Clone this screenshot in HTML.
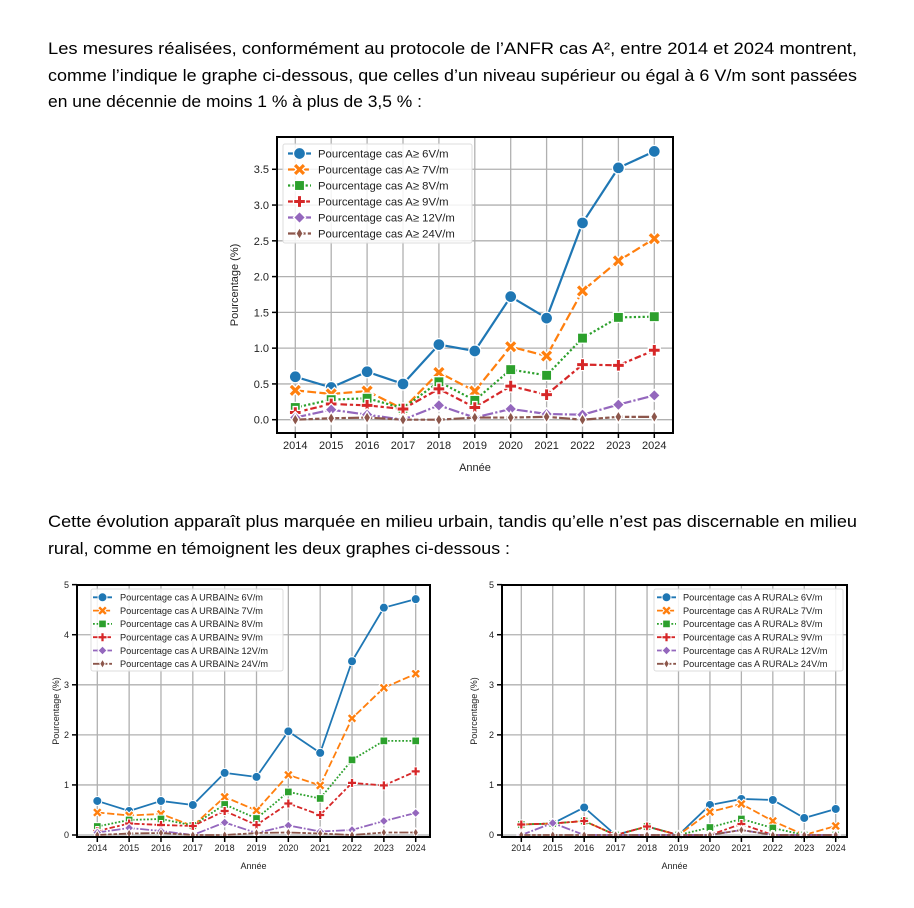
<!DOCTYPE html>
<html><head><meta charset="utf-8"><style>
html,body{margin:0;padding:0;background:#fff}
svg{display:block}
text{font-family:"Liberation Sans",sans-serif}
</style></head><body>
<svg id="s" width="914" height="908" viewBox="0 0 914 908" xmlns="http://www.w3.org/2000/svg">
<g font-size="17" fill="#000">
<text x="48" y="54" textLength="809" lengthAdjust="spacingAndGlyphs">Les mesures réalisées, conformément au protocole de l’ANFR cas A², entre 2014 et 2024 montrent,</text>
<text x="48" y="81" textLength="809" lengthAdjust="spacingAndGlyphs">comme l’indique le graphe ci-dessous, que celles d’un niveau supérieur ou égal à 6 V/m sont passées</text>
<text x="48" y="107" textLength="374" lengthAdjust="spacingAndGlyphs">en une décennie de moins 1 % à plus de 3,5 % :</text>
<text x="48" y="527" textLength="809" lengthAdjust="spacingAndGlyphs">Cette évolution apparaît plus marquée en milieu urbain, tandis qu’elle n’est pas discernable en milieu</text>
<text x="48" y="554" textLength="462" lengthAdjust="spacingAndGlyphs">rural, comme en témoignent les deux graphes ci-dessous :</text>
</g>
</svg>
<script>
const S=document.getElementById('s'),NS='http://www.w3.org/2000/svg';
function el(t,a,p){const e=document.createElementNS(NS,t);for(const k in a)e.setAttribute(k,a[k]);(p||S).appendChild(e);return e;}
const C=['#1f77b4','#ff7f0e','#2ca02c','#d62728','#9467bd','#8c564b'];
const D=[null,[4,1.5],[1,1],[3,1.25,1.5,1.25],[5,1,1,1],[5,1,2,1,2,1]];
function plus(x,y,a,b){return `M${x-b} ${y-a}H${x+b}V${y-b}H${x+a}V${y+b}H${x+b}V${y+a}H${x-b}V${y+b}H${x-a}V${y-b}H${x-b}Z`;}
function marker(g,i,x,y,r){const c=C[i],w={fill:c,stroke:'#fff','stroke-width':r*0.22};
 if(i==0)el('circle',Object.assign({cx:x,cy:y,r:r},w),g);
 else if(i==1)el('path',Object.assign({d:plus(x,y,r*1.15,r*0.38),transform:`rotate(45 ${x} ${y})`},w),g);
 else if(i==2)el('rect',Object.assign({x:x-r*0.85,y:y-r*0.85,width:r*1.7,height:r*1.7},w),g);
 else if(i==3)el('path',Object.assign({d:plus(x,y,r,r*0.36)},w),g);
 else if(i==4)el('path',Object.assign({d:`M${x} ${y-r}L${x+r} ${y}L${x} ${y+r}L${x-r} ${y}Z`},w),g);
 else el('path',Object.assign({d:`M${x} ${y-r}L${x+r*0.6} ${y}L${x} ${y+r}L${x-r*0.6} ${y}Z`},w),g);}
function chart(o){
 const g=el('g',{});
 const X=k=>o.x0+k*o.dx,Y=v=>o.y0-v*o.dy;
 for(let k=0;k<11;k++)el('line',{x1:X(k),x2:X(k),y1:o.T,y2:o.B,stroke:'#b0b0b0','stroke-width':1.3},g);
 o.yt.forEach(v=>el('line',{x1:o.L,x2:o.R,y1:Y(v),y2:Y(v),stroke:'#b0b0b0','stroke-width':1.3},g));
 o.data.forEach((d,i)=>{
  const pts=d.map((v,k)=>X(k)+','+Y(v)).join(' ');
  const a={points:pts,fill:'none',stroke:C[i],'stroke-width':o.lw,'stroke-linejoin':'round'};
  if(D[i])a['stroke-dasharray']=D[i].map(v=>v*o.lw).join(',');
  el('polyline',a,g);
  d.forEach((v,k)=>marker(g,i,X(k),Y(v),o.mr));
 });
 el('rect',{x:o.L,y:o.T,width:o.R-o.L,height:o.B-o.T,fill:'none',stroke:'#000','stroke-width':2},g);
 for(let k=0;k<11;k++){el('line',{x1:X(k),x2:X(k),y1:o.B,y2:o.B+5,stroke:'#000','stroke-width':1.5},g);
  el('text',{x:X(k),y:o.B+o.fs+5,'font-size':o.fs,'text-anchor':'middle',fill:'#222'},g).textContent=2014+k;}
 o.yt.forEach((v,j)=>{el('line',{x1:o.L-5,x2:o.L,y1:Y(v),y2:Y(v),stroke:'#000','stroke-width':1.5},g);
  el('text',{x:o.L-8,y:Y(v)+o.fs*0.36,'font-size':o.fs,'text-anchor':'end',fill:'#222'},g).textContent=o.yl[j];});
 el('text',{x:(o.L+o.R)/2,y:o.xly,'font-size':o.fs,'text-anchor':'middle',fill:'#222'},g).textContent='Année';
 el('text',{x:0,y:0,'font-size':o.fs,'text-anchor':'middle',fill:'#222',transform:`translate(${o.ylx},${(o.T+o.B)/2}) rotate(-90)`},g).textContent='Pourcentage (%)';
 const lg=o.lg;
 el('rect',{x:lg.x,y:lg.y,width:lg.w,height:lg.h,fill:'#fff','fill-opacity':0.85,stroke:'#ddd','stroke-width':1,rx:2},g);
 o.labels.forEach((t,i)=>{const yy=lg.ey+i*lg.sp;
  const a={x1:lg.sx,x2:lg.sx+lg.sl,y1:yy,y2:yy,stroke:C[i],'stroke-width':o.lw};
  if(D[i])a['stroke-dasharray']=D[i].map(v=>v*o.lw).join(',');
  el('line',a,g);marker(g,i,lg.sx+lg.sl/2,yy,o.mr);
  el('text',{x:lg.tx,y:yy+lg.fs*0.36,'font-size':lg.fs,fill:'#222'},g).textContent=t;});
}
const thr=['6V/m','7V/m','8V/m','9V/m','12V/m','24V/m'];
chart({L:277,R:673,T:137,B:433,x0:295.3,dx:35.9,y0:419.7,dy:71.55,lw:2.2,mr:6,fs:11,xly:471,ylx:238,
 yt:[0,.5,1,1.5,2,2.5,3,3.5],yl:['0.0','0.5','1.0','1.5','2.0','2.5','3.0','3.5'],
 data:[[.6,.45,.67,.5,1.05,.96,1.72,1.42,2.75,3.52,3.75],[.41,.36,.4,.15,.66,.4,1.02,.89,1.8,2.22,2.53],[.17,.28,.3,.16,.53,.27,.7,.62,1.14,1.43,1.44],[.1,.22,.2,.15,.43,.17,.47,.35,.77,.76,.97],[.03,.14,.07,0,.2,.03,.15,.08,.07,.21,.34],[0,.02,.03,0,0,.03,.03,.04,0,.04,.04]],
 labels:thr.map(t=>'Pourcentage cas A\u2265 '+t),
 lg:{x:283,y:144,w:189,h:99,ey:153.5,sp:16,sx:288,sl:23,tx:318,fs:11.3}});
chart({L:77,R:430,T:585,B:837,x0:97.3,dx:31.84,y0:835,dy:50.07,lw:1.8,mr:4.5,fs:9,xly:869,ylx:59,
 yt:[0,1,2,3,4,5],yl:['0','1','2','3','4','5'],
 data:[[.68,.48,.68,.6,1.24,1.16,2.07,1.64,3.47,4.54,4.71],[.45,.39,.42,.18,.76,.49,1.2,.99,2.33,2.94,3.22],[.17,.3,.32,.19,.61,.33,.86,.73,1.5,1.88,1.88],[.08,.23,.2,.18,.48,.2,.63,.4,1.04,.99,1.27],[.05,.14,.08,0,.25,.04,.19,.07,.1,.28,.44],[0,.03,.04,0,0,.04,.05,.03,0,.05,.05]],
 labels:thr.map(t=>'Pourcentage cas A URBAIN\u2265 '+t),
 lg:{x:91,y:589,w:192,h:82,ey:597.3,sp:13.3,sx:93,sl:19,tx:120,fs:9.2}});
chart({L:502,R:847,T:585,B:837,x0:521.3,dx:31.44,y0:835,dy:50.07,lw:1.8,mr:4.5,fs:9,xly:869,ylx:477,
 yt:[0,1,2,3,4,5],yl:['0','1','2','3','4','5'],
 data:[[.21,.23,.55,0,.17,0,.6,.72,.7,.34,.52],[.21,.23,.28,0,.17,0,.46,.62,.28,0,.18],[.21,.23,.28,0,.17,0,.15,.32,.14,0,0],[.21,.23,.28,0,.17,0,0,.22,0,0,0],[0,.24,0,0,0,0,0,.1,0,0,0],[0,0,0,0,0,0,0,.1,0,0,0]],
 labels:thr.map(t=>'Pourcentage cas A RURAL\u2265 '+t),
 lg:{x:654,y:589,w:189,h:82,ey:597.3,sp:13.3,sx:657,sl:19,tx:683,fs:9.2}});
</script>
</body></html>
